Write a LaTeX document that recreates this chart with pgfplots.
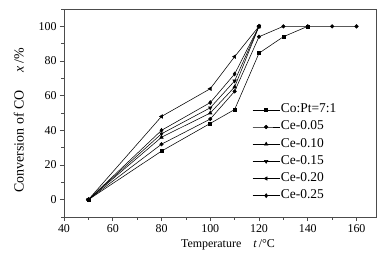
\documentclass[border=0pt]{standalone}
\usepackage{pgfplots}
\pgfplotsset{compat=1.18}
\usepackage{fontspec}
\setmainfont{Liberation Serif}
\begin{document}
\begin{tikzpicture}
\useasboundingbox (-64bp,-37bp) rectangle (321bp,217bp);
\begin{axis}[
  scale only axis,
  width=312bp, height=208bp,
  xmin=40, xmax=168, ymin=-10, ymax=110,
  xtick={40,60,...,160}, ytick={0,20,...,100},
  minor xtick={50,70,...,150}, minor ytick={-10,10,30,...,110},
  tick pos=left, tick align=outside,
  major tick length=4bp, minor tick length=2.5bp,
  axis line style={draw=black!70, line width=0.6pt},
  every tick/.style={black!70, line width=0.6pt},
  /pgf/number format/assume math mode=true,
  ticklabel style={font=\fontsize{12}{13}\selectfont},
  xlabel={Temperature\hspace{12bp}\textit{t}\,/°C},
  ylabel={Conversion of CO\hspace{18bp}\textit{x}\,/\%},
  xlabel style={font=\fontsize{12}{13}\selectfont, xshift=8bp, yshift=0bp},
  ylabel style={font=\fontsize{14}{15}\selectfont, xshift=-7.5bp, yshift=8bp},
  legend style={draw=none, fill=none, at={(0.6,0.545)}, anchor=north west,
    font=\fontsize{13.5}{14}\selectfont, row sep=7.2bp, inner sep=1bp,
    nodes={inner sep=1bp, text height=0.7em, text depth=0.1em}},
  legend cell align=left,
  legend image code/.code={
    \draw[mark repeat=2,mark phase=2] plot coordinates {(0bp,0bp) (13.5bp,0bp) (27bp,0bp)};
  },
]
\addplot[black, line width=0.55pt, mark=square*, mark size=1.5pt, mark options={solid, fill=black}] coordinates {(50,0) (80,28) (100,44) (110,52) (120,84.5) (130,94) (140,100)};
\addlegendentry{Co:Pt=7:1}
\addplot[black, line width=0.55pt, mark=*, mark size=1.8pt, mark options={solid, fill=black}] coordinates {(50,0) (80,32) (100,46.5) (110,62.5) (120,94) (130,100) (140,100) (150,100) (160,100)};
\addlegendentry{Ce-0.05}
\addplot[black, line width=0.55pt, mark=triangle*, mark size=2pt, mark options={solid, fill=black}] coordinates {(50,0) (80,36) (100,50) (110,65) (120,100)};
\addlegendentry{Ce-0.10}
\addplot[black, line width=0.55pt, mark=triangle*, mark size=2pt, mark options={solid, fill=black, rotate=180}] coordinates {(50,0) (80,38) (100,53) (110,68.5) (120,100)};
\addlegendentry{Ce-0.15}
\addplot[black, line width=0.55pt, mark=triangle*, mark size=2pt, mark options={solid, fill=black, rotate=90}] coordinates {(50,0) (80,48) (100,64) (110,82.5) (120,100)};
\addlegendentry{Ce-0.20}
\addplot[black, line width=0.55pt, mark=diamond*, mark size=2pt, mark options={solid, fill=black}] coordinates {(50,0) (80,40) (100,56) (110,72.5) (120,100)};
\addlegendentry{Ce-0.25}
\end{axis}
\end{tikzpicture}
\end{document}
